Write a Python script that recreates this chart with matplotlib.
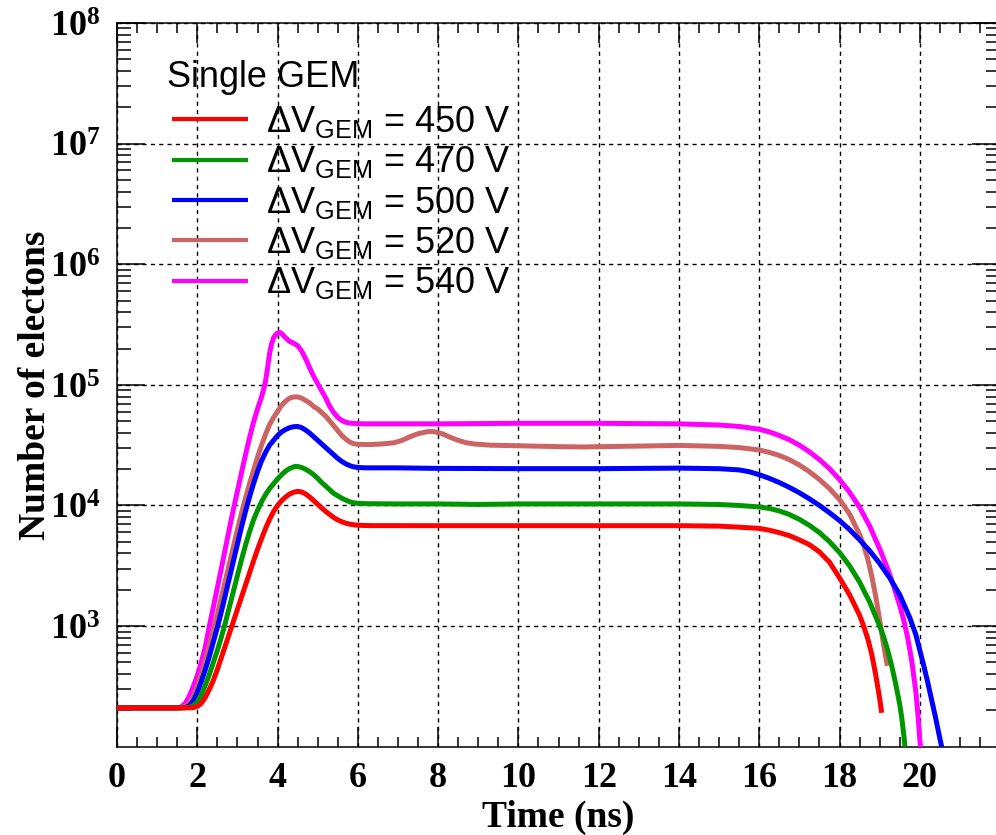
import numpy as np
import matplotlib
matplotlib.use("Agg")
import matplotlib.pyplot as plt
from matplotlib.ticker import FixedLocator, FuncFormatter, NullFormatter

plt.rcParams['mathtext.fontset'] = 'custom'
plt.rcParams['mathtext.bf'] = 'Liberation Serif:bold'
plt.rcParams['mathtext.rm'] = 'Liberation Sans'
plt.rcParams['mathtext.sf'] = 'Liberation Sans'
plt.rcParams['mathtext.it'] = 'Liberation Sans:italic'

# ---------------- data (time in ns, number of electrons) ----------------
labels = [r'ΔV$_{\mathrm{GEM}}$ = 450 V', r'ΔV$_{\mathrm{GEM}}$ = 470 V',
          r'ΔV$_{\mathrm{GEM}}$ = 500 V', r'ΔV$_{\mathrm{GEM}}$ = 520 V',
          r'ΔV$_{\mathrm{GEM}}$ = 540 V']
colors = ['#ff0000', '#009600', '#0000ff', '#cc6464', '#ff00ff']
legend_title = 'Single GEM'
xticks_major = [0, 2, 4, 6, 8, 10, 12, 14, 16, 18, 20]

t_red = [0, 1.0, 1.7, 1.9, 2.0, 2.1, 2.2, 2.3, 2.4, 2.5, 2.6, 2.7, 2.8, 2.9, 3.0, 3.1, 3.2, 3.3,
         3.4, 3.5, 3.6, 3.7, 3.8, 3.9, 4.0, 4.1, 4.2, 4.3, 4.4, 4.5, 4.6, 4.7, 4.8, 4.9, 5.0, 5.1,
         5.2, 5.3, 5.4, 5.5, 5.6, 5.7, 5.8, 5.9, 6.0, 6.3, 8.0, 10.0, 12.0, 14.0, 15.0, 15.5, 16.0,
         16.25, 16.5, 16.75, 17.0, 17.25, 17.5, 17.75, 18.0, 18.25, 18.5, 18.6, 18.7, 18.8, 18.9,
         19.0, 19.05]
n_red = [210, 210, 210, 211, 216, 229, 257, 299, 355, 437, 550, 692, 871, 1096, 1380, 1738, 2188, 2754,
         3467, 4315, 5309, 6457, 7674, 8913, 10000, 10960, 11750, 12450, 12880, 13090, 12940, 12450,
         11750, 10960, 10230, 9550, 8913, 8414, 7943, 7586, 7328, 7129, 6998, 6918, 6855, 6808, 6800,
         6800, 6800, 6800, 6745, 6607, 6457, 6237, 5957, 5623, 5188, 4732, 4121, 3388, 2512, 1820,
         1230, 1000, 794, 589, 398, 251, 191]

t_green = [0, 1.0, 1.6, 1.8, 1.9, 2.0, 2.1, 2.2, 2.3, 2.4, 2.5, 2.6, 2.7, 2.8, 2.9, 3.0, 3.1, 3.2,
           3.3, 3.4, 3.5, 3.6, 3.7, 3.8, 3.9, 4.0, 4.1, 4.2, 4.3, 4.4, 4.45, 4.5, 4.6, 4.7, 4.8, 4.9,
           5.0, 5.1, 5.2, 5.3, 5.4, 5.5, 5.6, 5.7, 5.8, 5.9, 6.0, 6.2, 7.0, 8.0, 9.0, 10.0, 12.0,
           14.0, 15.0, 15.5, 16.0, 16.25, 16.5, 16.75, 17.0, 17.25, 17.5, 17.75, 18.0, 18.25, 18.5,
           18.75, 19.0, 19.1, 19.2, 19.3, 19.4, 19.5, 19.55, 19.6, 19.63]
n_green = [210, 210, 210, 212, 219, 234, 269, 324, 398, 501, 631, 813, 1072, 1445, 1950, 2630, 3548,
           4677, 6026, 7586, 9120, 10720, 12300, 13800, 15140, 16600, 17990, 19280, 20280, 20890,
           21090, 21040, 20650, 19950, 19050, 17990, 16790, 15490, 14450, 13490, 12590, 12020, 11480,
           11090, 10720, 10520, 10420, 10350, 10300, 10300, 10200, 10300, 10300, 10300, 10190, 10000,
           9727, 9441, 9016, 8414, 7674, 6839, 5957, 5012, 4074, 3162, 2317, 1585, 1000, 813, 631,
           468, 331, 224, 174, 126, 100]

t_blue = [0, 1.0, 1.5, 1.7, 1.8, 1.9, 2.0, 2.1, 2.2, 2.3, 2.4, 2.5, 2.6, 2.7, 2.8, 2.9, 3.0, 3.1,
          3.2, 3.3, 3.4, 3.5, 3.6, 3.7, 3.8, 3.9, 4.0, 4.1, 4.2, 4.3, 4.4, 4.5, 4.6, 4.7, 4.8, 4.9,
          5.0, 5.1, 5.2, 5.3, 5.4, 5.5, 5.6, 5.7, 5.8, 5.9, 6.0, 6.2, 7.0, 8.0, 10.0, 12.0, 14.0,
          15.0, 15.5, 15.75, 16.0, 16.25, 16.5, 16.75, 17.0, 17.25, 17.5, 17.75, 18.0, 18.25, 18.5,
          18.75, 19.0, 19.25, 19.5, 19.75, 19.9, 20.0, 20.1, 20.2, 20.3, 20.4, 20.5, 20.55]
n_blue = [210, 210, 210, 211, 219, 240, 282, 347, 437, 562, 741, 977, 1318, 1820, 2512, 3467, 4786,
          6607, 8913, 11750, 15140, 19050, 23440, 27540, 31620, 34670, 38020, 40740, 42660, 44160,
          44980, 45190, 44160, 42170, 39810, 37150, 34670, 32360, 30200, 28180, 26300, 24550, 23170,
          22130, 21380, 20890, 20650, 20510, 20500, 20300, 20200, 20200, 20400, 20180, 19720, 19050,
          17990, 16790, 15490, 14130, 12740, 11350, 10000, 8710, 7500, 6310, 5190, 4217, 3311, 2512,
          1820, 1175, 851, 631, 468, 339, 240, 170, 117, 98]

t_brown = [0, 1.0, 1.5, 1.6, 1.7, 1.8, 1.9, 2.0, 2.1, 2.2, 2.3, 2.4, 2.5, 2.6, 2.7, 2.8, 2.9, 3.0,
           3.1, 3.2, 3.3, 3.4, 3.5, 3.6, 3.7, 3.8, 3.9, 4.0, 4.1, 4.2, 4.3, 4.4, 4.5, 4.6, 4.7, 4.8,
           4.9, 5.0, 5.1, 5.2, 5.3, 5.4, 5.5, 5.6, 5.7, 5.8, 5.9, 6.0, 6.3, 6.6, 6.9, 7.1, 7.3, 7.5,
           7.7, 7.8, 7.9, 8.1, 8.3, 8.5, 8.7, 8.9, 9.3, 10.0, 11.0, 11.6, 12.5, 13.5, 14.0, 15.0,
           15.5, 16.0, 16.25, 16.5, 16.75, 17.0, 17.25, 17.5, 17.75, 18.0, 18.25, 18.5, 18.6, 18.7,
           18.8, 18.9, 19.0, 19.1, 19.19]
n_brown = [210, 210, 210, 211, 216, 229, 263, 316, 398, 525, 692, 933, 1259, 1738, 2399, 3311, 4571,
           6310, 8610, 11480, 15140, 19500, 25120, 31620, 38900, 46770, 53700, 60260, 67610, 73280,
           77620, 79430, 79430, 77620, 74130, 70790, 66070, 63100, 58880, 54950, 50120, 45710, 41690,
           38020, 35480, 33500, 32510, 32140, 31990, 32360, 33110, 34670, 37150, 39360, 40740, 41110,
           40930, 39360, 36730, 34670, 33110, 32360, 31620, 31260, 30760, 30550, 30900, 31260, 31480,
           30900, 30200, 28840, 27540, 26000, 23990, 21630, 19050, 16410, 13800, 11220, 8510, 5750,
           4680, 3630, 2630, 1778, 1122, 692, 468]

t_mag = [0, 1.0, 1.5, 1.6, 1.7, 1.8, 1.9, 2.0, 2.1, 2.2, 2.3, 2.4, 2.5, 2.6, 2.7, 2.8, 2.9, 3.0,
         3.1, 3.2, 3.3, 3.4, 3.5, 3.6, 3.65, 3.7, 3.75, 3.8, 3.85, 3.9, 3.95, 4.0, 4.05, 4.1, 4.2,
         4.3, 4.4, 4.5, 4.6, 4.7, 4.8, 4.9, 5.0, 5.1, 5.2, 5.3, 5.4, 5.5, 5.6, 5.7, 5.8, 6.0, 6.2,
         8.0, 10.0, 12.0, 14.0, 15.0, 15.5, 16.0, 16.25, 16.5, 16.75, 17.0, 17.25, 17.5, 17.75,
         18.0, 18.25, 18.5, 18.75, 19.0, 19.2, 19.35, 19.5, 19.6, 19.7, 19.8, 19.9, 19.95, 20.0,
         20.02]
n_mag = [210, 210, 210, 214, 229, 263, 316, 389, 501, 676, 1000, 1445, 2089, 3020, 4416, 6457, 9333,
         13180, 18620, 26300, 36310, 48980, 63100, 79430, 91200, 107200, 138000, 182000, 219000,
         245500, 260000, 269200, 272300, 266100, 245500, 229100, 221300, 211300, 190500, 164100,
         138000, 117500, 102300, 89130, 77620, 66070, 58880, 53700, 50700, 48980, 48190, 47640, 47530,
         47500, 48000, 48000, 47500, 46450, 45190, 42850, 40740, 38020, 35080, 31620, 27860, 23990,
         20180, 16410, 12880, 9660, 6760, 4365, 2985, 2138, 1479, 1122, 794, 513, 288, 191, 115, 98]

series_t = [t_red, t_green, t_blue, t_brown, t_mag]
series_n = [n_red, n_green, n_blue, n_brown, n_mag]

# ---------------- figure ----------------
fig = plt.figure(figsize=(9.96, 8.35), dpi=100)
ax = fig.add_axes([0.1175, 0.1057, 0.8866, 0.8668])

lines = []
for i, (t, n, c, lab) in enumerate(zip(series_t, series_n, colors, labels)):
    ln, = ax.plot(t, n, color=c, lw=3.6, label=lab, zorder=10 - i,
                  solid_joinstyle='round', solid_capstyle='butt')
    lines.append(ln)

ax.set_yscale('log')
ax.set_xlim(0, 22)
ax.set_ylim(100, 1e8)

ax.xaxis.set_major_locator(FixedLocator(xticks_major))
ax.xaxis.set_minor_locator(FixedLocator(np.arange(0, 22.01, 0.5)))
ax.yaxis.set_major_locator(FixedLocator([1e3, 1e4, 1e5, 1e6, 1e7, 1e8]))
ax.yaxis.set_minor_locator(FixedLocator([k * 10.0 ** e for e in range(2, 8) for k in range(2, 10)]))
ax.yaxis.set_major_formatter(FuncFormatter(lambda v, p: r'$\mathbf{10^{%d}}$' % round(np.log10(v))))
ax.yaxis.set_minor_formatter(NullFormatter())

tickfont = {'family': 'Liberation Serif', 'weight': 'bold', 'size': 26}
ax.set_xticklabels([str(v) for v in xticks_major], fontdict=tickfont)
for lab in ax.get_yticklabels():
    lab.set_fontsize(26)

ax.tick_params(which='both', direction='in', top=True, right=True, colors='black', width=1.1)
ax.tick_params(axis='x', which='major', length=14.5, pad=11)
ax.tick_params(axis='x', which='minor', length=7.5)
ax.tick_params(axis='y', which='major', length=20, pad=12)
ax.tick_params(axis='y', which='minor', length=10)

for s in ax.spines.values():
    s.set_linewidth(1.1)
    s.set_color('black')

ax.grid(True, which='major', color='black', linestyle=(0, (3, 3)), linewidth=1.0)
ax.set_axisbelow(True)

ax.set_xlabel('Time (ns)', family='Liberation Serif', weight='bold', fontsize=27, labelpad=3.5)
ax.set_ylabel('Number of electons', family='Liberation Serif', weight='bold', fontsize=27, labelpad=-2)

fig.text(0.1677, 1 - 87 / 835, legend_title, family='Liberation Sans', fontsize=26,
         ha='left', va='baseline')
leg = ax.legend(handles=lines, labels=labels, loc='upper left',
                bbox_to_anchor=(0.1727, 0.8754), bbox_transform=fig.transFigure,
                frameon=False, prop={'family': 'Liberation Sans', 'size': 26},
                handlelength=2.1, handletextpad=0.5, labelspacing=0.12,
                borderpad=0, borderaxespad=0)
for lh in leg.get_lines():
    lh.set_linewidth(3)

fig.savefig('out.png', dpi=100)
